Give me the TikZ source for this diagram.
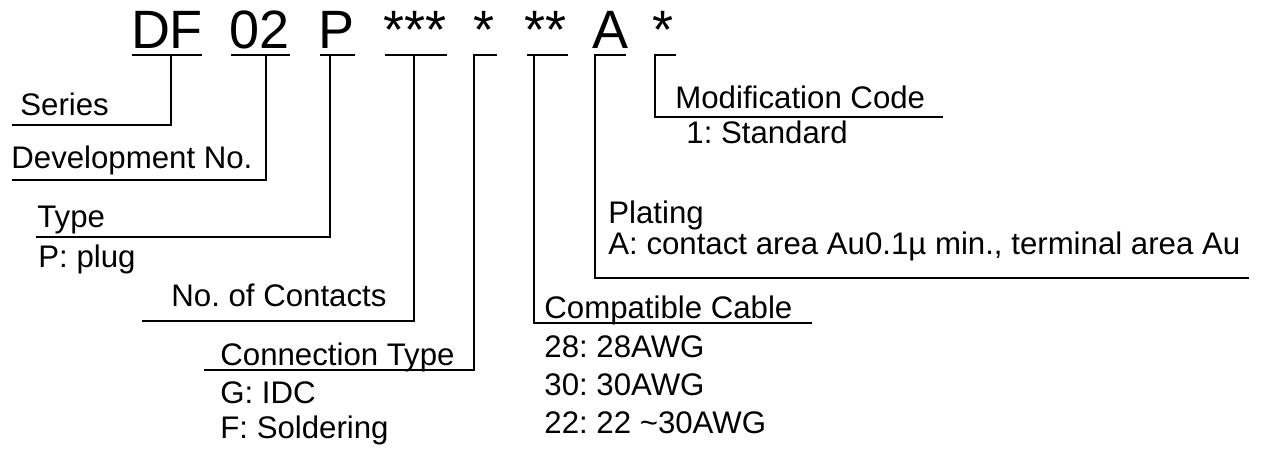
\documentclass[tikz,border=0pt]{standalone}
\usepackage{fontspec}
\setmainfont{Liberation Sans}
\frenchspacing
\begin{document}
\begin{tikzpicture}[x=0.5pt,y=-0.5pt,
  ln/.style={line width=1.3pt},
  code/.style={anchor=base,inner sep=0pt,font=\fontsize{27}{30}\selectfont},
  lab/.style={anchor=base west,inner sep=0pt,font=\fontsize{15.6}{18}\selectfont}]
\useasboundingbox (0,0) rectangle (1266,450);
% code characters
\node[code] (cDF) at (167,48) {DF};
\node[code] (c02) at (260,48) {02};
\node[code] (cP) at (337,48) {P};
\node[code] (cN) at (415,48) {***};
\node[code] (cC) at (484,48) {*};
\node[code] (cW) at (546,48) {**};
\node[code] (cA) at (611,48) {A};
\node[code] (cM) at (663,48) {*};
% labels
\node[lab] (series) at (20,115) {Series};
\node[lab] (dev) at (11,168) {Development No.};
\node[lab] (type) at (37,227) {Type};
\node[lab] (typeP) at (38,267) {P: plug};
\node[lab] (noc) at (171,306) {No. of Contacts};
\node[lab] (ctype) at (220,365) {Connection Type};
\node[lab] (ctG) at (220,403) {G: IDC};
\node[lab] (ctF) at (220,438) {F: Soldering};
\node[lab] (cab) at (544,318) {Compatible Cable};
\node[lab] (cab28) at (544,357) {28: 28AWG};
\node[lab] (cab30) at (544,395) {30: 30AWG};
\node[lab] (cab22) at (544,433) {22: 22 \textasciitilde30AWG};
\node[lab] (plat) at (608,223) {Plating};
\node[lab] (platA) at (608,254) {A: contact area Au0.1µ min., terminal area Au};
\node[lab] (mod) at (675,108) {Modification Code};
\node[lab] (mod1) at (686,143) {1: Standard};
% coordinates of connector ends
\coordinate (tDF) at (171,55);  \coordinate (eDF) at (12,125);
\coordinate (t02) at (266,55);  \coordinate (e02) at (12,180);
\coordinate (tP) at (330,55);   \coordinate (eP) at (36,237);
\coordinate (tN) at (414,55);   \coordinate (eN) at (142,321);
\coordinate (tC) at (474,55);   \coordinate (eC) at (204,370);
\coordinate (tW) at (534,55);   \coordinate (eW) at (812,323);
\coordinate (tA) at (595,55);   \coordinate (eA) at (1249,278);
\coordinate (tM) at (655,55);   \coordinate (eM) at (943,117);
% underlines
\draw[ln] (132,55) -- (202,55);
\draw[ln] (231,55) -- (290,55);
\draw[ln] (320,55) -- (355,55);
\draw[ln] (385,55) -- (447,55);
\draw[ln] (473.35,55) -- (497,55);
\draw[ln] (527,55) -- (568,55);
\draw[ln] (594.35,55) -- (626,55);
\draw[ln] (654.35,55) -- (676,55);
% connectors
\draw[ln] (tDF) |- (eDF);
\draw[ln] (t02) |- (e02);
\draw[ln] (tP) |- (eP);
\draw[ln] (tN) |- (eN);
\draw[ln] (tC) |- (eC);
\draw[ln] (tW) |- (eW);
\draw[ln] (tA) |- (eA);
\draw[ln] (tM) |- (eM);
\end{tikzpicture}
\end{document}
